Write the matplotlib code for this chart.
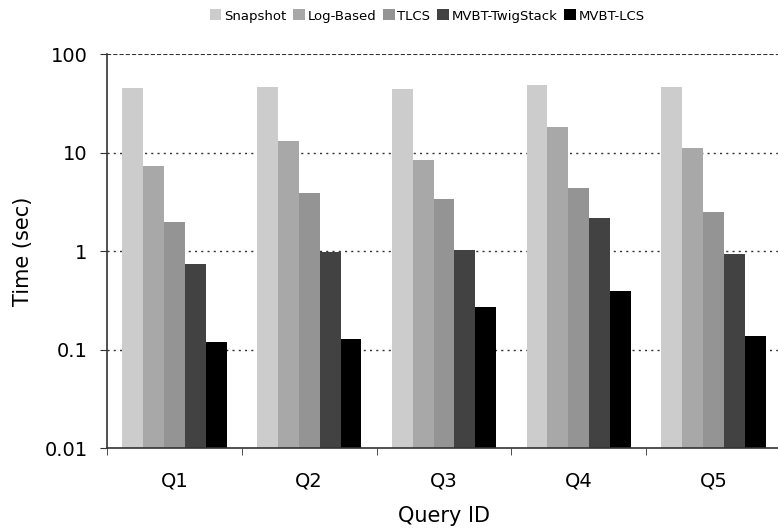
import numpy as np
import matplotlib.pyplot as plt
from matplotlib.ticker import FixedLocator, NullLocator

queries = ['Q1', 'Q2', 'Q3', 'Q4', 'Q5']
methods = ['Snapshot', 'Log-Based', 'TLCS', 'MVBT-TwigStack', 'MVBT-LCS']
snapshot = [45, 46, 44, 48, 46]
log_based = [7.3, 13.2, 8.4, 18.2, 11.1]
tlcs = [1.97, 3.9, 3.4, 4.4, 2.5]
twigstack = [0.74, 0.98, 1.02, 2.16, 0.93]
lcs = [0.119, 0.128, 0.27, 0.39, 0.137]
colors = ['#cccccc', '#a8a8a8', '#949494', '#424242', '#000000']

series = [snapshot, log_based, tlcs, twigstack, lcs]

fig = plt.figure(figsize=(7.78, 5.31), dpi=100)
ax = fig.add_axes([107/778, 1 - 448/531, 674/778, 394/531])

x = np.arange(len(queries))
w = 0.155
for k, (vals, name, c) in enumerate(zip(series, methods, colors)):
    ax.bar(x + (k - 2) * w, vals, w, color=c, label=name, zorder=2)

ax.set_yscale('log')
ax.set_ylim(0.01, 100)
ax.set_xlim(-0.5, len(queries) - 0.5)
ax.yaxis.set_major_locator(FixedLocator([0.01, 0.1, 1, 10, 100]))
ax.yaxis.set_minor_locator(NullLocator())
ax.set_yticklabels(['0.01', '0.1', '1', '10', '100'])
for yv in [0.1, 1, 10]:
    ax.axhline(yv, color='#333333', linestyle=(0, (1.5, 3)), linewidth=1, zorder=1)
ax.axhline(100, color='#333333', linestyle=(0, (2, 1)), linewidth=1.5, zorder=1)

ax.set_xticks(x)
ax.set_xticklabels(queries)
ax.xaxis.set_minor_locator(FixedLocator(np.arange(-0.5, len(queries), 1.0)))
ax.tick_params(axis='x', which='major', length=0, pad=17, labelsize=14)
ax.tick_params(axis='x', which='minor', length=5, color='#333333')
ax.tick_params(axis='y', length=5, color='#333333', labelsize=14, pad=9)

for s in ['top', 'right']:
    ax.spines[s].set_visible(False)
for s in ['left', 'bottom']:
    ax.spines[s].set_color('#333333')
    ax.spines[s].set_linewidth(1.2)

ax.set_ylabel('Time (sec)', fontsize=15, labelpad=8)
ax.set_xlabel('Query ID', fontsize=15, labelpad=11)

fig.legend(loc='center', bbox_to_anchor=(427/778, 1 - 16/531), ncol=5,
           frameon=False, fontsize=9.5, handlelength=0.9, handleheight=0.9,
           handletextpad=0.2, columnspacing=0.5, borderaxespad=0)

fig.savefig('out.png', dpi=100)
